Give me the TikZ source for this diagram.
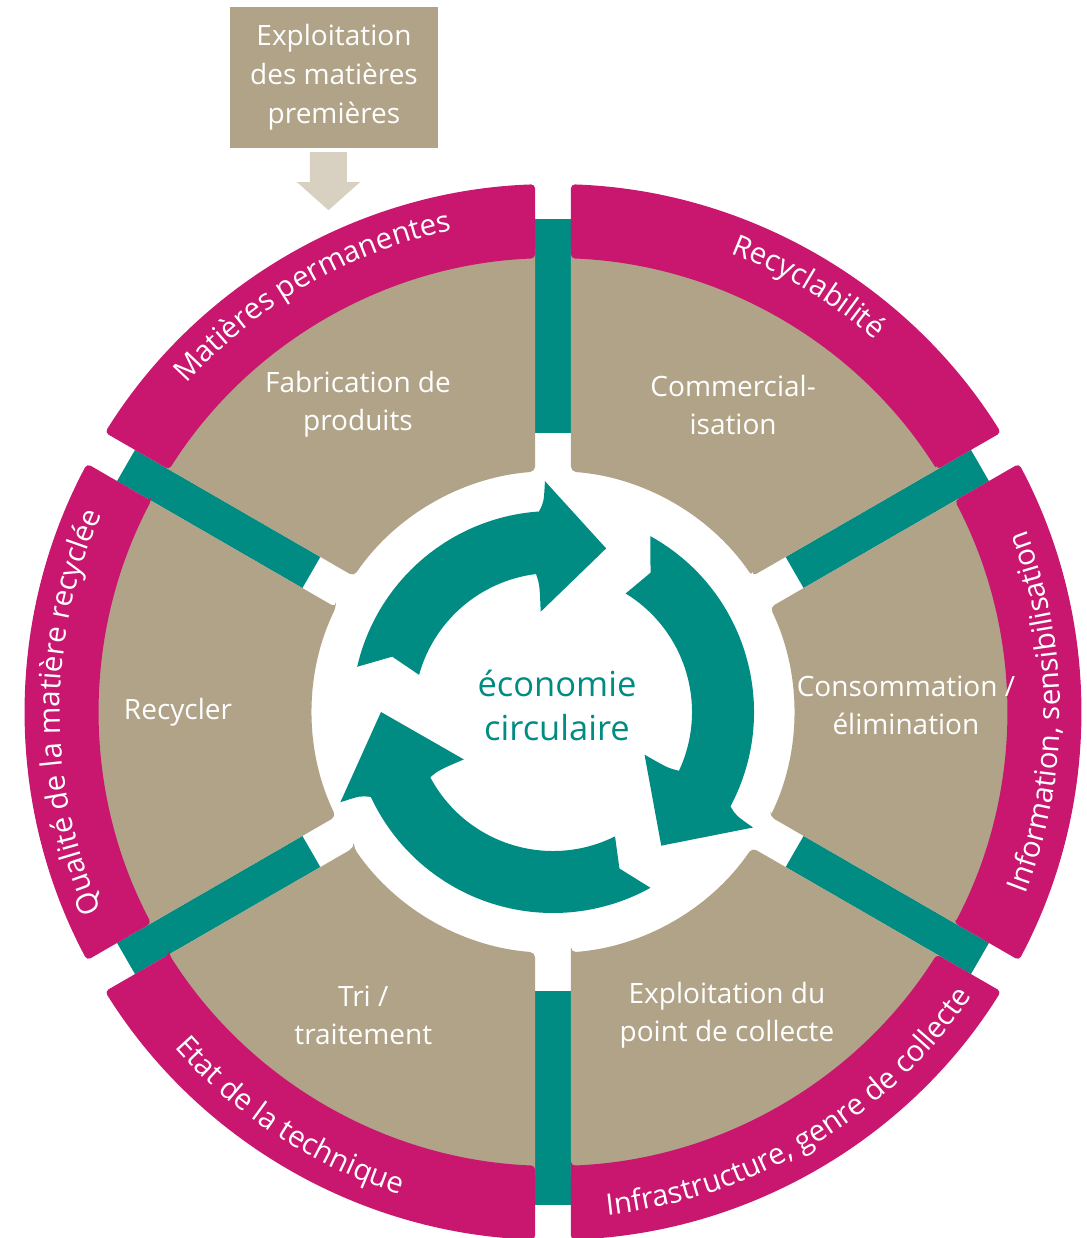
\documentclass[tikz,border=0pt]{standalone}
\usepackage{fontspec}
\setmainfont{Open Sans}
\usetikzlibrary{decorations.text}
\definecolor{rose}{RGB}{201,22,111}
\definecolor{sable}{RGB}{176,163,135}
\definecolor{canard}{RGB}{0,140,130}
\definecolor{fleche}{RGB}{216,208,192}
\newcommand\bandfont{\fontsize{29.5pt}{29.5pt}\selectfont}

\begin{document}
\begin{tikzpicture}[x=1pt,y=1pt,
    seglabel/.style={text=white,align=center,font=\fontsize{28pt}{38pt}\selectfont},
    bandtext/.style={decorate,decoration={text along path,text align=center,
        text={|\bandfont\color{white}|#1}}}]
  \useasboundingbox (-553,-526) rectangle (533,712);

  % barres vertes entre les secteurs
  \foreach \ang in {30,90,...,330}
    \fill[canard,rotate=\ang] (279,-18) rectangle (493,18);

  % secteurs beiges et bandeaux roses
  \foreach \ang in {0,60,...,300} {
    \fill[sable,rotate=\ang,rounded corners=5pt]
      (-25.72:241) -- (-27.81:470) arc[start angle=-27.81,end angle=27.81,radius=470]
      -- (25.72:241) arc[start angle=25.72,end angle=-25.72,radius=241] -- cycle;
    \fill[rose,rotate=\ang,rounded corners=4pt]
      (-27.73:454) -- (-28.05:528) arc[start angle=-28.05,end angle=28.05,radius=528]
      -- (27.73:454) arc[start angle=27.73,end angle=-27.73,radius=454] -- cycle;
  }

  % textes courbes
  \path[bandtext={Matières permanentes}] (148:492) arc[start angle=148,end angle=92,radius=492];
  \path[bandtext={Recyclabilité}] (87:492) arc[start angle=87,end angle=31,radius=492];
  \path[bandtext={Qualité de la matière recyclée}] (208:493) arc[start angle=208,end angle=152,radius=493];
  \path[bandtext={Information, sensibilisation}] (-28:507) arc[start angle=-28,end angle=28,radius=507];
  \path[bandtext={Infrastructure, genre de collecte}] (272:506) arc[start angle=272,end angle=330,radius=506];
  \path[bandtext={Etat de la technique}] (209:506) arc[start angle=209,end angle=265,radius=506];

  % etapes
  \node[seglabel] (fab) at (122.4:364) {Fabrication de\\produits};
  \node[seglabel] (com) at (59.6:356) {Commercial-\\isation};
  \node[seglabel] (conso) at (1.1:353) {Consommation /\\élimination};
  \node[seglabel] (point) at (299.8:350) {Exploitation du\\point de collecte};
  \node[seglabel] (tri) at (238:358) {Tri /\\traitement};
  \node[seglabel] (recy) at (180:375) {Recycler};

  % fleches du cycle
  \foreach \a/\b/\c in {167/92/72, 61/-30/-51, -61/-157/-180}
    \fill[canard] (\a:201) arc[start angle=\a,end angle=\b+2,radius=201]
      .. controls ({\b+0.5}:210) .. ({\b}:231) -- ({\c}:172) -- ({\b+5}:101)
      .. controls ({\b+4}:128) .. ({\b+5}:139)
      arc[start angle=\b+5,end angle=\a-2.5,radius=139] -- ({\a-6}:170) -- cycle;

  \node[text=canard,align=center,font=\fontsize{34.5pt}{44pt}\selectfont] (eco) at (4,7) {économie\\circulaire};

  % matieres premieres
  \node[fill=sable,text=white,minimum width=208,minimum height=141,inner sep=0pt,align=center,
        font=\fontsize{28pt}{39pt}\selectfont] (raw) at (-219,634.5) {Exploitation\\des matières\\premières};
  \fill[fleche] ([xshift=-24pt,yshift=-4pt]raw.south) -- ++(37,0) -- ++(0,-30) -- ++(13,0)
    -- ++(-31.5,-28) -- ++(-31.5,28) -- ++(13,0) -- cycle;
\end{tikzpicture}
\end{document}
